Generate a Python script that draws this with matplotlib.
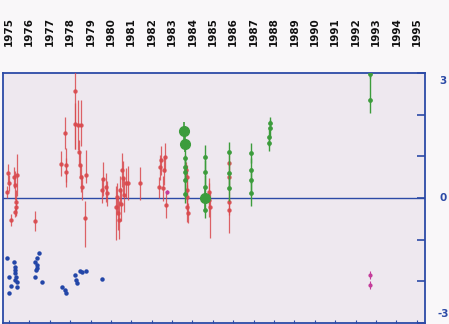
import numpy as np
import matplotlib
matplotlib.use('Agg')
import matplotlib.pyplot as plt

# year labels along the top
years = list(range(1975, 1996))

# right-hand scale labels
scale_pos = [2.8, 0.0, -2.78]
scale_txt = ['3', '0', '-3']

# red series: time, value, lower / upper error
red_t = [1974.90, 1974.95, 1975.00, 1975.10, 1975.25, 1975.29, 1975.34, 1975.39, 1975.36, 1975.32,
         1976.30,
         1977.55, 1977.79, 1977.79, 1977.75,
         1978.24, 1978.24, 1978.38, 1978.53, 1978.43, 1978.48, 1978.53, 1978.58, 1978.77, 1978.73,
         1979.56, 1979.61, 1979.75, 1979.80,
         1980.26, 1980.30, 1980.35, 1980.40, 1980.45, 1980.50, 1980.55, 1980.60, 1980.65, 1980.74, 1980.83,
         1981.42,
         1982.35, 1982.40, 1982.48, 1982.55, 1982.60, 1982.67, 1982.70,
         1983.68, 1983.72, 1983.72, 1983.75, 1983.72, 1983.77,
         1984.80, 1984.83, 1984.85,
         1985.80, 1985.80, 1985.80, 1985.80]
red_v = [0.14, 0.60, 0.36, -0.53, 0.50, 0.31, -0.10, 0.55, -0.22, -0.34,
         -0.55,
         0.82, 0.79, 0.62, 1.56,
         2.57, 1.78, 1.75, 1.75, 1.10, 0.79, 0.50, 0.26, 0.55, -0.48,
         0.19, 0.46, 0.26, 0.12,
         -0.22, 0.02, -0.36, -0.53, 0.19, -0.15, 0.67, 0.48, 0.07, 0.36, 0.36,
         0.36,
         0.26, 0.74, 0.91, 0.24, 0.67, 0.98, -0.17,
         0.67, 0.50, 0.19, 0.02, -0.22, -0.36,
         0.14, -0.05, -0.22,
         0.84, 0.50, -0.10, -0.29]
red_lo = [0.15, 0.22, 0.20, 0.15, 0.25, 0.35, 0.30, 0.50, 0.20, 0.12,
          0.25,
          0.30, 0.40, 0.35, 0.38,
          1.40, 0.60, 0.60, 0.50, 0.30, 0.30, 0.35, 0.30, 0.20, 0.70,
          0.30, 0.40, 0.35, 0.30,
          0.78, 0.35, 0.40, 0.45, 0.35, 0.40, 0.40, 0.40, 0.40, 0.35, 0.40,
          0.40,
          0.25, 0.30, 0.35, 0.30, 0.35, 0.35, 0.30,
          0.20, 0.30, 0.30, 0.30, 0.35, 0.25,
          0.35, 0.40, 0.74,
          0.30, 0.30, 0.30, 0.55]
red_hi = [0.15, 0.22, 0.20, 0.15, 0.25, 0.35, 0.30, 0.50, 0.20, 0.12,
          0.25,
          0.30, 0.40, 0.35, 0.38,
          0.45, 0.50, 0.60, 0.60, 0.30, 0.30, 0.30, 0.30, 0.60, 0.40,
          0.30, 0.40, 0.35, 0.30,
          0.50, 0.35, 0.40, 0.45, 0.35, 0.40, 0.40, 0.40, 0.40, 0.35, 0.40,
          0.38,
          0.25, 0.30, 0.35, 0.30, 0.35, 0.35, 0.35,
          0.20, 0.30, 0.30, 0.30, 0.35, 0.25,
          0.35, 0.40, 0.40,
          0.30, 0.30, 0.30, 0.30]

# green series
green_t = [1983.63, 1983.63, 1983.63, 1983.63, 1983.63,
           1984.60, 1984.60, 1984.60, 1984.60,
           1985.78, 1985.78, 1985.78,
           1986.86, 1986.86, 1986.86, 1986.86,
           1987.75, 1987.77, 1987.82, 1987.80,
           1992.70, 1992.70]
green_v = [0.96, 0.74, 0.62, 0.43, 0.10,
           0.98, 0.62, 0.26, -0.29,
           1.10, 0.60, 0.24,
           1.08, 0.67, 0.43, 0.12,
           1.32, 1.46, 1.68, 1.80,
           2.35, 2.97]
green_lo = [0.30, 0.30, 0.30, 0.30, 0.22,
            0.30, 0.30, 0.30, 0.20,
            0.25, 0.30, 0.30,
            0.25, 0.30, 0.30, 0.30,
            0.20, 0.20, 0.20, 0.15,
            0.30, 0.10]
green_hi = [0.30, 0.30, 0.30, 0.30, 0.22,
            0.30, 0.30, 0.30, 0.20,
            0.25, 0.30, 0.30,
            0.25, 0.30, 0.30, 0.30,
            0.20, 0.20, 0.20, 0.15,
            0.63, 0.05]

# green points drawn with large markers
gbig_t = [1983.60, 1983.63, 1984.60]
gbig_v = [1.60, 1.30, 0.00]
gbig_e = [0.22, 0.20, 0.30]

# magenta points
mag_t = [1982.77, 1992.70, 1992.70]
mag_v = [0.14, -1.85, -2.09]
mag_e = [0.05, 0.10, 0.10]

# blue series
blue_t = [1974.90, 1975.00, 1975.10, 1975.00,
          1975.25, 1975.29, 1975.29, 1975.29, 1975.34, 1975.39, 1975.39, 1975.29,
          1976.47, 1976.37, 1976.27, 1976.37, 1976.32, 1976.27, 1976.37, 1976.62,
          1977.60, 1977.75, 1977.79,
          1978.24, 1978.28, 1978.33, 1978.48, 1978.58, 1978.77,
          1979.56]
blue_v = [-1.44, -1.90, -2.11, -2.28,
          -1.54, -1.66, -1.73, -1.80, -1.90, -2.02, -2.14, -1.97,
          -1.32, -1.44, -1.54, -1.61, -1.73, -1.90, -1.68, -2.02,
          -2.14, -2.21, -2.28,
          -1.85, -1.97, -2.04, -1.75, -1.78, -1.75,
          -1.94]

axcol = '#2c4aa6'
redc = '#d94a4e'
greenc = '#3c9c3c'
bluec = '#2346a8'
magc = '#c43c9a'

fig = plt.figure(figsize=(4.49, 3.24), dpi=100)
fig.patch.set_facecolor('#f9f7f9')
ax = fig.add_axes([3/449, 1/324, 422/449, 250/324])
ax.set_facecolor('#eee8ef')

ax.axhline(0, color=axcol, linewidth=1.0, zorder=1)

ax.errorbar(red_t, red_v, yerr=[red_lo, red_hi], fmt='o', ms=2.2, color=redc,
            ecolor=redc, elinewidth=0.9, capsize=0, alpha=0.85, zorder=3)
ax.errorbar(green_t, green_v, yerr=[green_lo, green_hi], fmt='o', ms=2.4, color=greenc,
            ecolor=greenc, elinewidth=1.0, capsize=0, zorder=4)
ax.errorbar(gbig_t, gbig_v, yerr=gbig_e, fmt='o', ms=7, color=greenc,
            ecolor=greenc, elinewidth=1.2, capsize=0, zorder=4)
ax.errorbar(mag_t, mag_v, yerr=mag_e, fmt='o', ms=2, color=magc,
            ecolor=magc, elinewidth=0.8, capsize=0, zorder=5)
ax.plot(blue_t, blue_v, 'o', ms=2.2, color=bluec, zorder=3)

ax.set_xlim(1974.71, 1995.4)
ax.set_ylim(-3, 3)

for s in ax.spines.values():
    s.set_color(axcol)
    s.set_linewidth(1.3)

ax.yaxis.tick_right()
ax.set_yticks([-3, -2, -1, 0, 1, 2, 3])
ax.set_yticklabels([])
ax.tick_params(axis='y', direction='in', length=6, width=1.2, color=axcol)

# scale numbers sit just inside the end ticks
for yv, s in zip(scale_pos, scale_txt):
    ax.text(1.043, yv, s, transform=ax.get_yaxis_transform(), ha='center', va='center',
            fontsize=7.5, fontweight='bold', color=axcol)

ax.set_xticks(years)
ax.set_xticklabels([])
ax.tick_params(axis='x', direction='in', length=2, width=0.8, color=axcol)

# year labels above the frame
for yr in years:
    ax.text(yr, 1.165, str(yr), transform=ax.get_xaxis_transform(), rotation=90,
            ha='center', va='center', fontsize=7.5, fontweight='bold', color='#111111')

fig.savefig('out.png', dpi=100, facecolor=fig.get_facecolor())
